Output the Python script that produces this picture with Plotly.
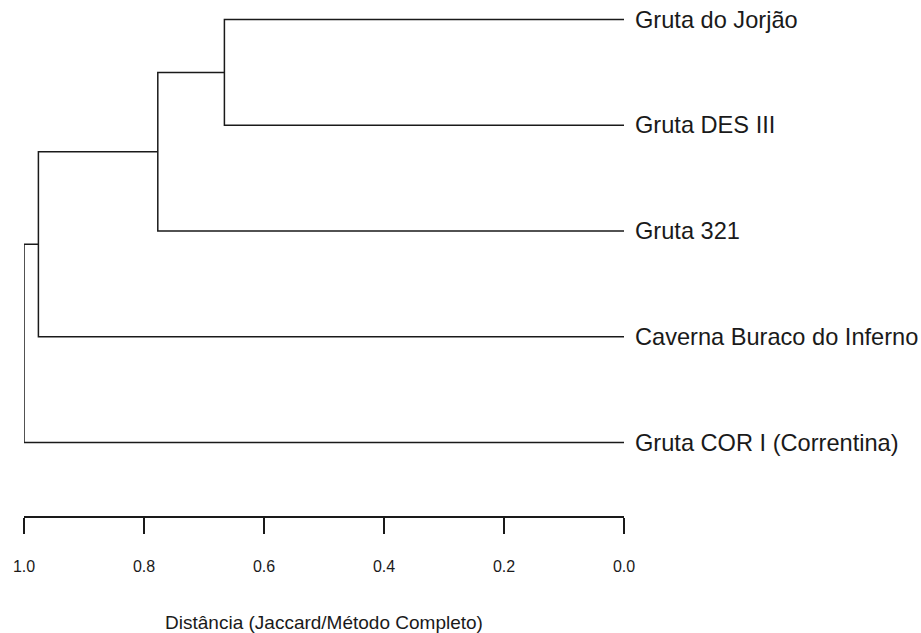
import plotly.graph_objects as go

# folhas do dendrograma (de cima para baixo)
rotulos = ["Gruta do Jorjão", "Gruta DES III", "Gruta 321",
           "Caverna Buraco do Inferno", "Gruta COR I (Correntina)"]

# fusões: (grupo a, grupo b, altura) - índices negativos = folhas, positivos = fusões anteriores
fusao_a = [-1, 1, 2, 3]
fusao_b = [-2, -3, -4, -5]
alturas = [0.666, 0.777, 0.976, 1.0]

ticks = [1.0, 0.8, 0.6, 0.4, 0.2, 0.0]
ticks_txt = ["1.0", "0.8", "0.6", "0.4", "0.2", "0.0"]

pos = {}
alt = {}
for i in range(len(rotulos)):
    pos[-(i + 1)] = i + 1
    alt[-(i + 1)] = 0.0

xs = []
ys = []
for k in range(len(alturas)):
    a, b, h = fusao_a[k], fusao_b[k], alturas[k]
    # ramo em forma de colchete
    xs += [alt[a], h, h, alt[b], None]
    ys += [pos[a], pos[a], pos[b], pos[b], None]
    pos[k + 1] = (pos[a] + pos[b]) / 2
    alt[k + 1] = h

fig = go.Figure()
fig.add_trace(go.Scatter(x=xs, y=ys, mode='lines',
                         line=dict(color='#1a1a1a', width=1.5),
                         hoverinfo='skip', showlegend=False))

for i, r in enumerate(rotulos):
    fig.add_annotation(x=0.0, y=i + 1, text=r, showarrow=False,
                       xanchor='left', yanchor='middle', xshift=9,
                       font=dict(size=23.6, color='#1a1a1a'))

fig.update_xaxes(range=[1.0, 0.0], showgrid=False, zeroline=False,
                 showline=True, linecolor='#1a1a1a', linewidth=1.5,
                 ticks='outside', ticklen=16, tickcolor='#1a1a1a', tickwidth=1.5,
                 tickvals=ticks, ticktext=ticks_txt, ticklabelstandoff=19,
                 tickfont=dict(size=16, color='#1a1a1a'), automargin=False,
                 title=dict(text="Distância (Jaccard/Método Completo)",
                            font=dict(size=19, color='#1a1a1a'), standoff=45))
fig.update_yaxes(range=[5.695, 0.9007], visible=False, showgrid=False, zeroline=False)

fig.update_layout(width=921, height=633,
                  margin=dict(l=24, r=297, t=9, b=117),
                  plot_bgcolor='white', paper_bgcolor='white',
                  font=dict(family="Liberation Sans, Arial, sans-serif"))

# tira a margem do body para a figura ocupar a janela toda
fig.write_html("out.html", config={'displayModeBar': False},
               post_script="document.body.style.margin='0';"
                           "document.documentElement.style.overflow='hidden';")
